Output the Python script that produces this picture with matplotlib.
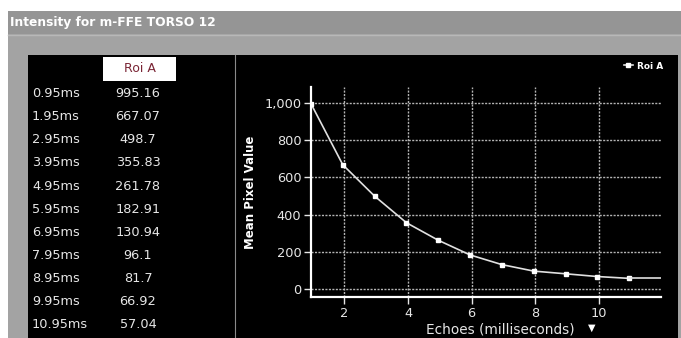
import matplotlib.pyplot as plt
from matplotlib.patches import Rectangle

# echo times (ms) and mean pixel value of the ROI
echo_ms = [0.95, 1.95, 2.95, 3.95, 4.95, 5.95, 6.95, 7.95, 8.95, 9.95, 10.95]
roi_a = [995.16, 667.07, 498.7, 355.83, 261.78, 182.91, 130.94, 96.1, 81.7, 66.92, 57.04]
roi_a_txt = ['995.16', '667.07', '498.7', '355.83', '261.78', '182.91', '130.94',
             '96.1', '81.7', '66.92', '57.04']
x_ticks = [2, 4, 6, 8, 10]
y_ticks = [0, 200, 400, 600, 800, 1000]
y_ticklabels = ['0', '200', '400', '600', '800', '1,000']
titel = 'Intensity for m-FFE TORSO 12'
serie = 'Roi A'

W, H = 681, 338
fig = plt.figure(figsize=(W / 100, H / 100), dpi=100, facecolor='white')

# tlo w pikselach
bg = fig.add_axes([0, 0, 1, 1])
bg.set_xlim(0, W)
bg.set_ylim(H, 0)
bg.axis('off')
bg.add_patch(Rectangle((8, 11), W - 8, H - 11, color='#a3a3a3', lw=0))
bg.add_patch(Rectangle((8, 11), W - 8, 23, color='#959595', lw=0))
bg.plot([8, W], [34.5, 34.5], color='#b8b8b8', lw=1)
bg.add_patch(Rectangle((28, 55), 650, H - 55, color='black', lw=0))
bg.plot([235, 235], [55, H], color='#8a8a8a', lw=0.8)
bg.text(10, 22.5, titel, color='white', fontsize=8.8, fontweight='bold',
        va='center', ha='left')

# tabela
bg.add_patch(Rectangle((103, 57), 73, 24, color='white', lw=0))
bg.text(139.5, 69, serie, color='#7a2535', fontsize=9, ha='center', va='center')
for i, (t, v) in enumerate(zip(echo_ms, roi_a_txt)):
    y = 93.5 + i * 23.15
    bg.text(32, y, '%.2fms' % t, color='#e6e6e6', fontsize=9.3, ha='left', va='center')
    bg.text(138, y, v, color='#e6e6e6', fontsize=9.3, ha='center', va='center')

# wykres
ax = fig.add_axes([311 / W, (H - 297) / H, 350 / W, (297 - 87) / H])
ax.set_facecolor('none')
ax.plot(echo_ms, roi_a, color='#e0e0e0', lw=1.2, marker='s', ms=2.8,
        mfc='white', mec='white', label=serie)
x_max = 11.95
ax.plot([echo_ms[-1], x_max], [roi_a[-1], roi_a[-1]], color='#e0e0e0', lw=1.2)
ax.set_xlim(echo_ms[0], x_max)
ax.set_ylim(-43, 1085)
ax.set_xticks(x_ticks)
ax.set_yticks(y_ticks)
ax.set_yticklabels(y_ticklabels)
ax.grid(True, color='#b4b4b4', linestyle=(0, (1.5, 1)), lw=1.0)
ax.set_axisbelow(True)
for s in ['top', 'right']:
    ax.spines[s].set_visible(False)
for s in ['left', 'bottom']:
    ax.spines[s].set_color('white')
    ax.spines[s].set_linewidth(1.6)
ax.tick_params(colors='#e6e6e6', labelsize=9.3, length=5, width=1, pad=2)
ax.set_ylabel('Mean Pixel Value', color='white', fontsize=8.5, fontweight='bold', labelpad=5)
ax.set_xlabel('Echoes (milliseconds)', color='#e6e6e6', fontsize=9.8, labelpad=1)
ax.xaxis.set_label_coords(0.54, -0.12)
bg.text(592, 327.5, '\u25bc', color='white', fontsize=7, ha='center', va='center')

leg = ax.legend(loc='upper right', bbox_to_anchor=(668 / W, 1 - 57 / H),
                bbox_transform=fig.transFigure, frameon=False, fontsize=6.5,
                handlelength=1.0, handletextpad=0.5, borderpad=0, labelcolor='white')
for t in leg.get_texts():
    t.set_fontweight('bold')

plt.savefig('out.png', dpi=100, facecolor='white')
